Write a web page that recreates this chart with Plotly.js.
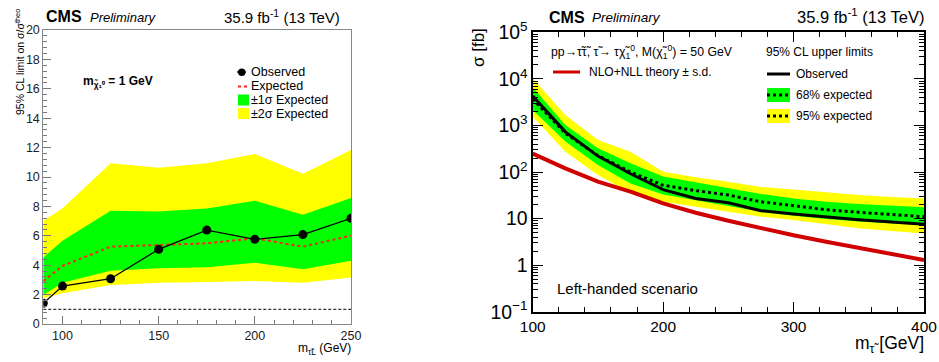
<!DOCTYPE html>
<html>
<head>
<meta charset="utf-8">
<script src="https://cdn.plot.ly/plotly-3.0.1.min.js"></script>
<style>html,body{margin:0;padding:0;background:#fff;}#chart{width:939px;height:362px;}</style>
</head>
<body>
<div id="chart"></div>
<script>
// ---------- Left panel data (limit on sigma / sigma_theo) ----------
const massL   = [90, 100, 125, 150, 175, 200, 225, 250];
const obsL    = [1.41, 2.58, 3.08, 5.08, 6.39, 5.76, 6.08, 7.19];
const expL    = [2.92, 3.95, 5.26, 5.37, 5.49, 5.83, 5.26, 6.01];
const exp1upL = [4.53, 5.67, 7.71, 7.66, 7.85, 8.39, 7.44, 8.57];
const exp1dnL = [1.97, 2.81, 3.63, 3.79, 3.86, 4.17, 3.72, 4.31];
const exp2upL = [7.03, 7.87, 10.93, 10.63, 10.93, 11.56, 10.22, 11.84];
const exp2dnL = [1.75, 2.09, 2.65, 2.81, 2.86, 2.92, 2.81, 3.17];
const unityL  = 1;
const xTicksL = [100, 150, 200, 250];

// ---------- Right panel data (cross section limits, fb) ----------
const massR   = [100, 125, 150, 175, 200, 225, 250, 275, 300, 325, 350, 375, 400];
const obsR    = [4300, 730, 220, 92, 42, 27, 22, 14.8, 12.6, 10.8, 9.5, 8.5, 7.6];
const expR    = [3700, 680, 225, 100, 52, 40, 32, 23, 19, 15.5, 13.7, 12.2, 11];
const exp1upR = [6600, 1020, 324, 154, 80, 60, 45, 34, 27, 23, 20.5, 18.8, 17.5];
const exp1dnR = [2150, 450, 142, 57, 33, 25, 19, 14, 11.5, 9.8, 8.7, 7.9, 7.3];
const exp2upR = [10300, 1680, 488, 273, 102, 77, 62, 48, 42, 36, 32, 29, 27];
const exp2dnR = [1540, 274, 86, 35, 23, 18, 14, 11, 9.3, 7.5, 6.2, 5.4, 4.8];
const theoryR = [250, 120, 62, 38, 21.3, 13.4, 9.0, 6.2, 4.4, 3.2, 2.4, 1.74, 1.29];

// ---------- helpers (pixel -> paper) ----------
const W = 939, H = 362;
const px = v => v / W;
const py = v => 1 - v / H;
const FONT = 'Liberation Sans, Arial, Helvetica, sans-serif';
const YEL = '#ffff00', GRN = '#00ff00';

const traces = [
  // Left panel
  {x: massL, y: exp2dnL, xaxis: 'x', yaxis: 'y', mode: 'lines', line: {width: 0, color: YEL}, showlegend: false},
  {x: massL, y: exp2upL, xaxis: 'x', yaxis: 'y', mode: 'lines', line: {width: 0, color: YEL}, fill: 'tonexty', fillcolor: YEL, showlegend: false},
  {x: massL, y: exp1dnL, xaxis: 'x', yaxis: 'y', mode: 'lines', line: {width: 0, color: GRN}, showlegend: false},
  {x: massL, y: exp1upL, xaxis: 'x', yaxis: 'y', mode: 'lines', line: {width: 0, color: GRN}, fill: 'tonexty', fillcolor: GRN, showlegend: false},
  {x: massL, y: expL, xaxis: 'x', yaxis: 'y', mode: 'lines', line: {width: 2, color: '#ff2020', dash: 'dot'}, showlegend: false},
  {x: massL, y: obsL, xaxis: 'x', yaxis: 'y', mode: 'lines+markers', line: {width: 1.3, color: '#000'}, marker: {size: 9, color: '#000'}, showlegend: false},
  // Right panel
  {x: massR, y: exp2dnR, xaxis: 'x2', yaxis: 'y2', mode: 'lines', line: {width: 0, color: YEL}, showlegend: false},
  {x: massR, y: exp2upR, xaxis: 'x2', yaxis: 'y2', mode: 'lines', line: {width: 0, color: YEL}, fill: 'tonexty', fillcolor: YEL, showlegend: false},
  {x: massR, y: exp1dnR, xaxis: 'x2', yaxis: 'y2', mode: 'lines', line: {width: 0, color: GRN}, showlegend: false},
  {x: massR, y: exp1upR, xaxis: 'x2', yaxis: 'y2', mode: 'lines', line: {width: 0, color: GRN}, fill: 'tonexty', fillcolor: GRN, showlegend: false},
  {x: massR, y: theoryR, xaxis: 'x2', yaxis: 'y2', mode: 'lines', line: {width: 4, color: '#d00000'}, showlegend: false},
  {x: massR, y: expR, xaxis: 'x2', yaxis: 'y2', mode: 'lines', line: {width: 3, color: '#000', dash: 'dot'}, showlegend: false},
  {x: massR, y: obsR, xaxis: 'x2', yaxis: 'y2', mode: 'lines', line: {width: 3, color: '#000'}, showlegend: false}
];

const ann = (text, x, y, size, xanchor, extra) => Object.assign({
  text: text, x: px(x), y: py(y), xref: 'paper', yref: 'paper',
  xanchor: xanchor || 'left', yanchor: 'middle', showarrow: false,
  font: {family: FONT, size: size, color: '#000'}
}, extra || {});

const annotations = [
  // Left
  ann('<b>CMS</b>', 44, 16, 16),
  ann('<i>Preliminary</i>', 88, 17, 13),
  ann('35.9 fb<sup>-1</sup> (13 TeV)', 342, 16, 15, 'right'),
  ann('95% CL limit on σ/σ<sup>theo</sup>', 19, 62, 10.5, 'center', {textangle: -90}),
  ann('<b>m<sub>χ̃₁⁰</sub> = 1 GeV</b>', 81, 82, 12),
  ann('Observed', 249, 72, 12.5),
  ann('Expected', 249, 86, 12.5),
  ann('±1σ Expected', 249, 100, 12.5),
  ann('±2σ Expected', 249, 114, 12.5),
  ann('m<sub>τ̃L</sub> (GeV)', 353, 349, 12, 'right'),
  // Right
  ann('<b>CMS</b>', 547, 17, 16),
  ann('<i>Preliminary</i>', 590, 17, 13.5),
  ann('35.9 fb<sup>-1</sup> (13 TeV)', 926, 16, 16.5, 'right'),
  ann('σ [fb]', 478, 48, 17, 'center', {textangle: -90}),
  ann('m<sub>τ̃</sub> [GeV]', 926, 344, 17.5, 'right'),
  ann('Left-handed scenario', 555, 288, 15),
  ann('pp→τ̃τ̃, τ̃→ τχ̃<sub>1</sub><sup>0</sup>, M(χ̃<sub>1</sub><sup>0</sup>) = 50 GeV', 549, 52, 12.3),
  ann('NLO+NLL theory ± s.d.', 587, 72, 12),
  ann('95% CL upper limits', 764, 52, 12),
  ann('Observed', 794, 74, 12),
  ann('68% expected', 794, 95, 12),
  ann('95% expected', 794, 116, 12)
];

const shp = (o) => Object.assign({xref: 'paper', yref: 'paper'}, o);
const shapes = [
  // reference line at limit = 1 (left)
  {type: 'line', xref: 'x domain', yref: 'y', x0: 0, x1: 1, y0: unityL, y1: unityL, line: {color: '#000', width: 1, dash: '3px,2px'}},
  // left legend swatches
  shp({type: 'line', x0: px(237), x1: px(246), y0: py(72), y1: py(72), line: {color: '#000', width: 1.3}}),
  shp({type: 'circle', x0: px(238), x1: px(245.5), y0: py(68.5), y1: py(76), fillcolor: '#000', line: {width: 0}}),
  shp({type: 'line', x0: px(238), x1: px(249), y0: py(86.5), y1: py(86.5), line: {color: '#ff2020', width: 2, dash: 'dot'}}),
  shp({type: 'rect', x0: px(238), x1: px(249), y0: py(94.5), y1: py(105.5), fillcolor: GRN, line: {width: 0}}),
  shp({type: 'rect', x0: px(238), x1: px(249), y0: py(108), y1: py(119), fillcolor: YEL, line: {width: 0}}),
  // right legend swatches
  shp({type: 'line', x0: px(553), x1: px(580), y0: py(72), y1: py(72), line: {color: '#d00000', width: 3}}),
  shp({type: 'line', x0: px(767), x1: px(790), y0: py(74), y1: py(74), line: {color: '#000', width: 3}}),
  shp({type: 'rect', x0: px(767), x1: px(790), y0: py(88), y1: py(102), fillcolor: GRN, line: {width: 0}}),
  shp({type: 'line', x0: px(767), x1: px(790), y0: py(95), y1: py(95), line: {color: '#000', width: 3, dash: 'dot'}}),
  shp({type: 'rect', x0: px(767), x1: px(790), y0: py(109), y1: py(123), fillcolor: YEL, line: {width: 0}}),
  shp({type: 'line', x0: px(767), x1: px(790), y0: py(116), y1: py(116), line: {color: '#000', width: 3, dash: 'dot'}})
];

const layout = {
  width: W, height: H,
  margin: {l: 0, r: 0, t: 0, b: 0, pad: 0},
  paper_bgcolor: '#fff', plot_bgcolor: '#fff',
  showlegend: false,
  font: {family: FONT, color: '#000'},
  xaxis: {
    domain: [px(43.3), px(351)], range: [90, 250], anchor: 'y',
    tickmode: 'array', tickvals: xTicksL, ticks: 'inside', ticklen: 8, tickcolor: '#777',
    showline: true, linecolor: '#888', linewidth: 1, mirror: true,
    showgrid: false, zeroline: false,
    tickfont: {family: FONT, size: 12.5, color: '#222'},
    minor: {tick0: 0, dtick: 10, ticks: 'inside', ticklen: 4, tickcolor: '#777', showgrid: false}
  },
  yaxis: {
    domain: [py(324), py(30)], range: [0, 20], anchor: 'x',
    dtick: 2, ticks: 'inside', ticklen: 8, tickcolor: '#777',
    showline: true, linecolor: '#888', linewidth: 1, mirror: true,
    showgrid: false, zeroline: false,
    tickfont: {family: FONT, size: 12.5, color: '#222'},
    minor: {dtick: 0.4, ticks: 'inside', ticklen: 4, tickcolor: '#777', showgrid: false}
  },
  xaxis2: {
    domain: [px(532.7), px(924)], range: [100, 400], anchor: 'y2',
    dtick: 100, ticks: 'inside', ticklen: 10, tickcolor: '#000', tickwidth: 1,
    showline: true, linecolor: '#000', linewidth: 2, mirror: 'allticks',
    showgrid: false, zeroline: false,
    tickfont: {family: FONT, size: 15.5, color: '#000'},
    minor: {dtick: 20, ticks: 'inside', ticklen: 5, tickcolor: '#000', showgrid: false}
  },
  yaxis2: {
    domain: [py(311.8), py(32.3)], type: 'log', range: [-1, 5], anchor: 'x2',
    dtick: 1, exponentformat: 'power', ticks: 'inside', ticklen: 10, tickcolor: '#000',
    showline: true, linecolor: '#000', linewidth: 2, mirror: 'allticks',
    showgrid: false, zeroline: false,
    tickfont: {family: FONT, size: 15.5, color: '#000'},
    minor: {dtick: 'D1', ticks: 'inside', ticklen: 5, tickcolor: '#000', showgrid: false}
  },
  annotations: annotations,
  shapes: shapes
};

Plotly.newPlot('chart', traces, layout, {staticPlot: true, displayModeBar: false});
</script>
</body>
</html>
